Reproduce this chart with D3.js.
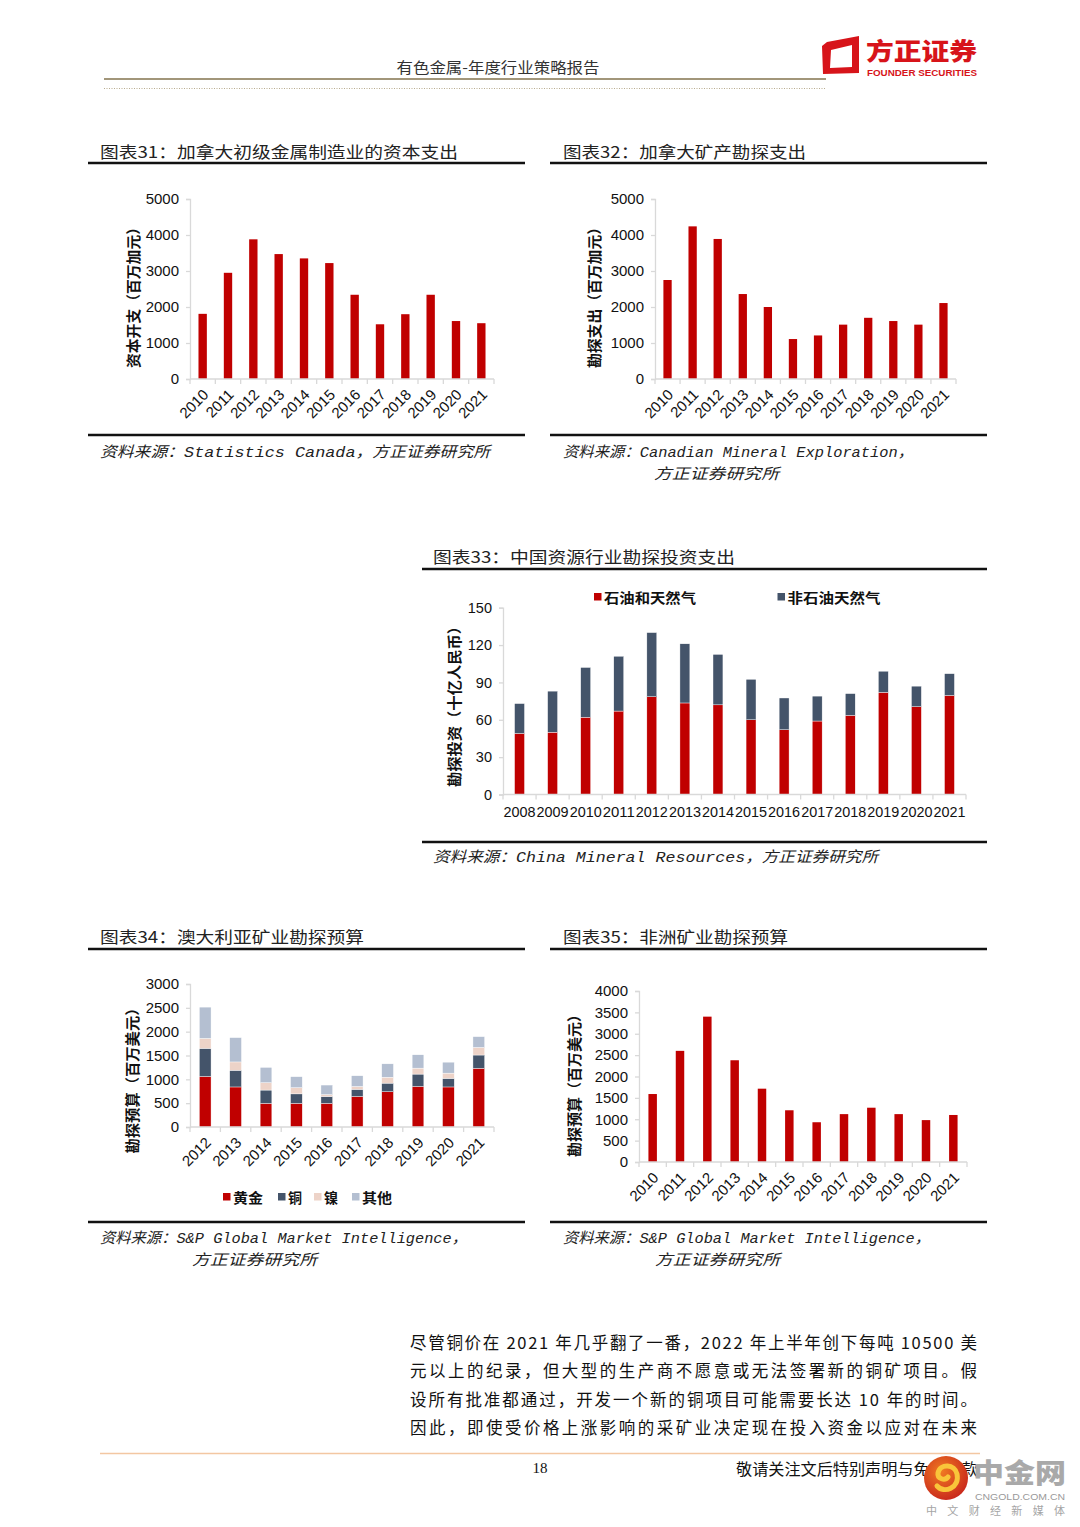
<!DOCTYPE html>
<html><head><meta charset="utf-8">
<script src="https://cdn.jsdelivr.net/npm/d3@7"></script>
<style>
html,body{margin:0;padding:0;background:#fff;}
svg{display:block;}
</style></head>
<body>
<svg id="page" width="1080" height="1527"></svg>
<script>
// ---------------- DATA ----------------
const years31 = ['2010','2011','2012','2013','2014','2015','2016','2017','2018','2019','2020','2021'];
const capex31 = [1810,2950,3880,3470,3350,3220,2340,1520,1800,2340,1610,1550];
const ticks31 = [0,1000,2000,3000,4000,5000];

const years32 = ['2010','2011','2012','2013','2014','2015','2016','2017','2018','2019','2020','2021'];
const explore32 = [2750,4240,3890,2360,2000,1110,1210,1510,1700,1610,1510,2110];
const ticks32 = [0,1000,2000,3000,4000,5000];

const years33 = ['2008','2009','2010','2011','2012','2013','2014','2015','2016','2017','2018','2019','2020','2021'];
const oilGas33 = [49,50,62,67,78.5,73.5,72,60,52,59,63.5,82,70.5,79.5];
const nonOil33 = [24,33,40,44,51.5,47.5,40.5,32.5,25.5,20,17.5,17,16.5,17.5];
const ticks33 = [0,30,60,90,120,150];
const series33 = ['石油和天然气','非石油天然气'];

const years34 = ['2012','2013','2014','2015','2016','2017','2018','2019','2020','2021'];
const gold34 = [1060,840,495,495,495,640,740,850,840,1230];
const copper34 = [590,350,280,200,145,150,180,260,180,280];
const nickel34 = [210,175,155,130,40,60,125,125,110,160];
const other34 = [655,510,320,230,200,225,280,280,230,225];
const ticks34 = [0,500,1000,1500,2000,2500,3000];
const series34 = ['黄金','铜','镍','其他'];

const years35 = ['2010','2011','2012','2013','2014','2015','2016','2017','2018','2019','2020','2021'];
const africa35 = [1590,2600,3400,2380,1715,1210,930,1120,1270,1120,980,1100];
const ticks35 = [0,500,1000,1500,2000,2500,3000,3500,4000];

const bodyLines = [
  '尽管铜价在 2021 年几乎翻了一番，2022 年上半年创下每吨 10500 美',
  '元以上的纪录，但大型的生产商不愿意或无法签署新的铜矿项目。假',
  '设所有批准都通过，开发一个新的铜项目可能需要长达 10 年的时间。',
  '因此，即使受价格上涨影响的采矿业决定现在投入资金以应对在未来'
];

// ---------------- STYLE ----------------
const RED = '#C00000', NAVY = '#44546A', PINK = '#EDD3C8', LBLUE = '#B4BFD1';
const AX = '#D9D9D9';
const NUM = '"Liberation Sans", Arial, sans-serif';
const CJK = '"Noto Sans CJK SC", "Noto Sans", sans-serif';
const SRC = '"Liberation Mono", "Noto Sans CJK SC", monospace';

const svg = d3.select('#page');

// ---------------- HEADER ----------------
svg.append('text').attr('x', 498).attr('y', 73).attr('text-anchor','middle')
  .attr('font-family', CJK).attr('font-size', 15).attr('fill','#333')
  .attr('textLength', 203).attr('lengthAdjust','spacingAndGlyphs')
  .text('有色金属-年度行业策略报告');
svg.append('line').attr('x1',104).attr('x2',826).attr('y1',79).attr('y2',79)
  .attr('stroke','#A2967A').attr('stroke-width',2);
svg.append('line').attr('x1',104).attr('x2',826).attr('y1',88.5).attr('y2',88.5)
  .attr('stroke','#B8AC90').attr('stroke-width',1).attr('stroke-dasharray','1,1.5');
// logo
svg.append('path').attr('fill','#D7141A').attr('fill-rule','evenodd')
  .attr('d','M827,42 L859,36 L859,73 L823,74 L822,46 Z M831,50 L852,45 L852,67 L830,68 Z');
svg.append('text').attr('x',866).attr('y',60).attr('font-family',CJK).attr('font-weight',900)
  .attr('font-size',24).attr('fill','#D7141A').attr('textLength',111).attr('lengthAdjust','spacingAndGlyphs')
  .text('方正证券');
svg.append('text').attr('x',867).attr('y',75.5).attr('font-family',NUM).attr('font-weight',700)
  .attr('font-size',9).attr('fill','#D7141A').attr('textLength',110).attr('lengthAdjust','spacingAndGlyphs')
  .text('FOUNDER SECURITIES');

// ---------------- HELPERS ----------------
function frame(x0, x1, titleX, titleY, title, titleW, topY, botY, srcLines) {
  svg.append('text').attr('x', titleX).attr('y', titleY).attr('font-family', CJK)
    .attr('font-size', 16).attr('fill', '#222').attr('textLength', titleW)
    .attr('lengthAdjust','spacingAndGlyphs').text(title);
  svg.append('line').attr('x1',x0).attr('x2',x1).attr('y1',topY).attr('y2',topY)
    .attr('stroke','#111').attr('stroke-width',2.6);
  svg.append('line').attr('x1',x0).attr('x2',x1).attr('y1',botY).attr('y2',botY)
    .attr('stroke','#111').attr('stroke-width',2.6);
  srcLines.forEach(s => {
    svg.append('text').attr('x', s.x).attr('y', s.y).attr('font-family', SRC)
      .attr('font-style','italic').attr('font-size', 15).attr('fill','#222')
      .attr('textLength', s.w).attr('lengthAdjust','spacingAndGlyphs').text(s.t);
  });
}

function axes(g, xs, ys, ticks, o) {
  const [x0, x1] = xs.range();
  const y0 = ys.range()[0];
  // y axis
  const ya = g.append('g').attr('transform', `translate(${x0},0)`)
    .call(d3.axisLeft(ys).tickValues(ticks).tickSize(4).tickPadding(7).tickFormat(d3.format('d')));
  ya.select('.domain').attr('stroke', AX).attr('stroke-width',1.3);
  ya.selectAll('.tick line').attr('stroke', AX).attr('stroke-width',1.3);
  ya.selectAll('.tick text').attr('font-family', NUM).attr('font-size', o.fs).attr('fill','#111');
  // x axis line
  g.append('line').attr('x1', x0).attr('x2', x1).attr('y1', y0).attr('y2', y0)
    .attr('stroke', AX).attr('stroke-width', 1.3);
  const n = xs.domain().length;
  d3.range(n + 1).forEach(i => {
    const xx = x0 + i * xs.step();
    g.append('line').attr('x1', xx).attr('x2', xx).attr('y1', y0).attr('y2', y0 + 5)
      .attr('stroke', AX).attr('stroke-width', 1.3);
  });
  // x labels
  xs.domain().forEach(c => {
    const cx = xs(c) + xs.bandwidth() / 2;
    if (o.rotate) {
      g.append('text').attr('transform', `translate(${cx + 3},${y0 + 13}) rotate(-45)`)
        .attr('text-anchor','end').attr('dy','0.35em')
        .attr('font-family', NUM).attr('font-size', o.fs).attr('fill','#111').text(c);
    } else {
      g.append('text').attr('x', cx).attr('y', y0 + 22).attr('text-anchor','middle')
        .attr('font-family', NUM).attr('font-size', o.fs).attr('fill','#111')
        .attr('textLength', o.labelW).attr('lengthAdjust','spacingAndGlyphs').text(c);
    }
  });
  // y title
  g.append('text').attr('transform', `translate(${o.ytX},${o.ytY}) rotate(-90)`)
    .attr('text-anchor','middle').attr('dominant-baseline','central')
    .attr('font-family', CJK).attr('font-weight', 700).attr('font-size', 14.5).attr('fill','#111')
    .attr('textLength', o.ytW).attr('lengthAdjust','spacingAndGlyphs').text(o.yt);
}

function simpleBars(cats, vals, ticks, o) {
  const g = svg.append('g');
  const xs = d3.scaleBand().domain(cats).range([o.x0, o.x1]).paddingInner(o.pad).paddingOuter(o.pad / 2);
  const ys = d3.scaleLinear().domain([0, ticks[ticks.length - 1]]).range([o.y0, o.y1]);
  g.selectAll('rect.bar').data(vals).join('rect').attr('class','bar')
    .attr('x', (d, i) => xs(cats[i])).attr('width', xs.bandwidth())
    .attr('y', d => ys(d)).attr('height', d => ys(0) - ys(d)).attr('fill', RED);
  axes(g, xs, ys, ticks, o);
}

function stackedBars(cats, seriesVals, colors, ticks, o) {
  const g = svg.append('g');
  const xs = d3.scaleBand().domain(cats).range([o.x0, o.x1]).paddingInner(o.pad).paddingOuter(o.pad / 2);
  const ys = d3.scaleLinear().domain([0, ticks[ticks.length - 1]]).range([o.y0, o.y1]);
  const rows = cats.map((c, i) => { const r = {c}; seriesVals.forEach((s, k) => r['s' + k] = s[i]); return r; });
  const keys = seriesVals.map((s, k) => 's' + k);
  const stacked = d3.stack().keys(keys)(rows);
  stacked.forEach((layer, k) => {
    g.append('g').selectAll('rect').data(layer).join('rect')
      .attr('x', d => xs(d.data.c)).attr('width', xs.bandwidth())
      .attr('y', d => ys(d[1])).attr('height', d => ys(d[0]) - ys(d[1]))
      .attr('fill', colors[k]).attr('stroke', '#ffffff').attr('stroke-width', 0.4);
  });
  axes(g, xs, ys, ticks, o);
}

function legend(items) {
  items.forEach(it => {
    svg.append('rect').attr('x', it.x).attr('y', it.y - 4).attr('width', 7.5).attr('height', 7.5).attr('fill', it.color);
    svg.append('text').attr('x', it.x + 10).attr('y', it.y).attr('dominant-baseline','central')
      .attr('font-family', CJK).attr('font-weight', 700).attr('font-size', 13.5).attr('fill','#111')
      .attr('textLength', it.w).attr('lengthAdjust','spacingAndGlyphs').text(it.t);
  });
}

// ---------------- CHART 31 ----------------
frame(88, 525, 100, 158, '图表31：加拿大初级金属制造业的资本支出', 358, 163, 435,
  [{x:100, y:457, w:390, t:'资料来源：Statistics Canada，方正证券研究所'}]);
simpleBars(years31, capex31, ticks31, {x0:190, x1:494, y0:379, y1:199, pad:0.67, fs:15, rotate:true,
  yt:'资本开支（百万加元）', ytX:132, ytY:294, ytW:148});

// ---------------- CHART 32 ----------------
frame(550, 987, 563, 158, '图表32：加拿大矿产勘探支出', 243, 163, 435,
  [{x:563, y:457, w:350, t:'资料来源：Canadian Mineral Exploration，'},
   {x:654, y:479, w:125, t:'方正证券研究所'}]);
simpleBars(years32, explore32, ticks32, {x0:655, x1:956, y0:379, y1:199, pad:0.67, fs:15, rotate:true,
  yt:'勘探支出（百万加元）', ytX:593, ytY:294, ytW:148});

// ---------------- CHART 33 ----------------
frame(422, 987, 433, 563, '图表33：中国资源行业勘探投资支出', 302, 569, 842,
  [{x:433, y:862, w:445, t:'资料来源：China Mineral Resources，方正证券研究所'}]);
stackedBars(years33, [oilGas33, nonOil33], [RED, NAVY], ticks33, {x0:503, x1:966, y0:794.5, y1:607.7, pad:0.7, fs:14.5, rotate:false, labelW:32,
  yt:'勘探投资（十亿人民币）', ytX:453, ytY:703, ytW:168});
legend([{x:594, y:597, color:RED, t:series33[0], w:92},
        {x:777.5, y:597, color:NAVY, t:series33[1], w:93}]);

// ---------------- CHART 34 ----------------
frame(88, 525, 100, 943, '图表34：澳大利亚矿业勘探预算', 264, 949, 1222,
  [{x:100, y:1243, w:367, t:'资料来源：S&P Global Market Intelligence，'},
   {x:192, y:1265, w:125, t:'方正证券研究所'}]);
stackedBars(years34, [gold34, copper34, nickel34, other34], [RED, NAVY, PINK, LBLUE], ticks34,
  {x0:190, x1:494, y0:1127, y1:984, pad:0.615, fs:15, rotate:true,
   yt:'勘探预算（百万美元）', ytX:131, ytY:1077, ytW:153});
legend([{x:223, y:1197, color:RED, t:series34[0], w:30},
        {x:278, y:1197, color:NAVY, t:series34[1], w:14},
        {x:314, y:1197, color:PINK, t:series34[2], w:14},
        {x:352, y:1197, color:LBLUE, t:series34[3], w:30}]);

// ---------------- CHART 35 ----------------
frame(550, 987, 563, 943, '图表35：非洲矿业勘探预算', 225, 949, 1222,
  [{x:563, y:1243, w:367, t:'资料来源：S&P Global Market Intelligence，'},
   {x:655, y:1265, w:125, t:'方正证券研究所'}]);
simpleBars(years35, africa35, ticks35, {x0:639, x1:967, y0:1162, y1:991, pad:0.69, fs:15, rotate:true,
  yt:'勘探预算（百万美元）', ytX:573, ytY:1082, ytW:150});

// ---------------- BODY TEXT ----------------
bodyLines.forEach((t, i) => {
  svg.append('text').attr('x', 410).attr('y', 1349 + i * 28.3)
    .attr('font-family', '"Noto Sans CJK SC", sans-serif').attr('font-size', 16.5).attr('fill','#111')
    .attr('textLength', 567).attr('lengthAdjust','spacing').text(t);
});

// ---------------- FOOTER ----------------
svg.append('line').attr('x1',100).attr('x2',980).attr('y1',1453.5).attr('y2',1453.5)
  .attr('stroke','#F3C7A2').attr('stroke-width',1.5);
svg.append('text').attr('x',540).attr('y',1473).attr('text-anchor','middle')
  .attr('font-family','"Liberation Serif", serif').attr('font-size',15).attr('fill','#111').text('18');
svg.append('text').attr('x',736).attr('y',1475).attr('font-family',CJK).attr('font-size',15.5)
  .attr('fill','#111').attr('textLength',242).attr('lengthAdjust','spacingAndGlyphs').text('敬请关注文后特别声明与免责条款');

// watermark
const wm = svg.append('g');
const grad = svg.append('defs').append('radialGradient').attr('id','wmg').attr('cx','40%').attr('cy','35%').attr('r','70%');
grad.append('stop').attr('offset','0%').attr('stop-color','#F07A22');
grad.append('stop').attr('offset','100%').attr('stop-color','#C8261C');
wm.append('circle').attr('cx',946).attr('cy',1478).attr('r',22).attr('fill','url(#wmg)');
wm.append('path').attr('d','M937,1486 C944,1494 960,1488 957,1474 C955,1464 940,1463 938,1473 C937,1479 945,1481 948,1477')
  .attr('fill','none').attr('stroke','#F9C53A').attr('stroke-width',5).attr('stroke-linecap','round');
wm.append('text').attr('x',973).attr('y',1483).attr('font-family',CJK).attr('font-weight',900)
  .attr('font-size',27).attr('fill','#A9A9A9').attr('textLength',93).attr('lengthAdjust','spacingAndGlyphs').text('中金网');
wm.append('text').attr('x',975).attr('y',1500).attr('font-family',NUM)
  .attr('font-size',9).attr('fill','#9A9A9A').attr('textLength',90).attr('lengthAdjust','spacingAndGlyphs').text('CNGOLD.COM.CN');
wm.append('text').attr('x',926).attr('y',1515).attr('font-family',CJK)
  .attr('font-size',11).attr('fill','#A5A5A5').attr('textLength',139).attr('lengthAdjust','spacing').text('中文财经新媒体');
</script>
</body></html>
